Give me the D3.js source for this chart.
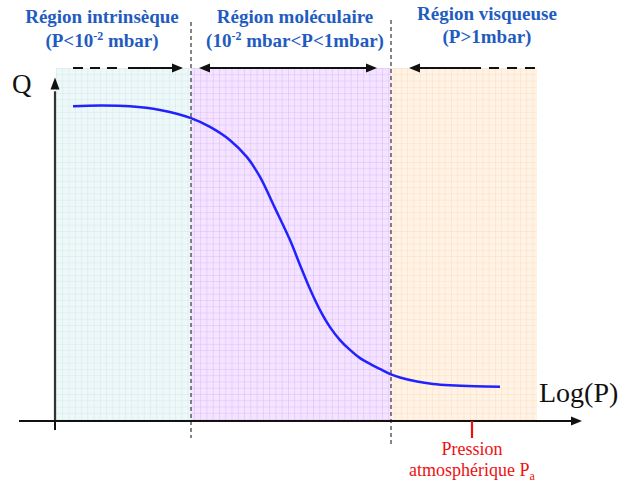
<!DOCTYPE html>
<html><head><meta charset="utf-8">
<script src="https://cdn.jsdelivr.net/npm/d3@7"></script>
<style>body{margin:0;background:#fff}svg{display:block}</style>
</head><body><svg id="c" width="621" height="486"></svg>
<script>
// ---- data ----
const regionNames = ["Région intrinsèque", "Région moléculaire", "Région visqueuse"];
const regionConditions = [
  [["(P<10",""],["-2","sup"],[" mbar)",""]],
  [["(10",""],["-2","sup"],[" mbar<P<1mbar)",""]],
  [["(P>1mbar)",""]]
];
const regionBounds = [-3.35, -2, 0, 1.46];          // log(P) limits of the shaded regions
const logP = [-3.18,-2.91,-2.61,-2.31,-2.00,-1.81,-1.61,-1.44,-1.31,-1.16,-1.01,-0.91,-0.81,-0.71,-0.61,-0.51,-0.41,-0.31,-0.21,-0.11,0.00,0.09,0.26,0.42,0.59,0.84,1.09];
const Q    = [92.6,92.8,92.6,91.5,89.1,86.5,82.6,77.6,71.8,62.6,53.2,45.9,38.8,32.6,27.6,23.8,20.9,18.5,16.8,15.3,13.7,12.8,11.6,10.9,10.5,10.2,10.1];
const atmLogP = 0.81;
const axisLabels = {x: "Log(P)", y: "Q"};
const atmLabel = ["Pression", "atmosphérique P", "a"];

const SERIF = "'Liberation Serif', 'Times New Roman', 'DejaVu Serif', serif";

// ---- scales ----
const x = d3.scaleLinear().domain([-3.36, 1.91]).range([55, 582]);
const y = d3.scaleLinear().domain([0, 100]).range([421, 81]);
const svg = d3.select("#c");
const defs = svg.append("defs");

const fills = [
  {bg:"#eef8f8", grid:"#cfe8e8"},
  {bg:"#f4e4ff", grid:"#dcb8fb"},
  {bg:"#fff3e6", grid:"#fcdcbc"}
];
const topY = 68, step = 6.27;
fills.forEach((f,i)=>{
  const p = defs.append("pattern").attr("id","g"+i).attr("patternUnits","userSpaceOnUse")
    .attr("x", x(regionBounds[0])).attr("y", topY).attr("width", step).attr("height", step);
  p.append("rect").attr("width",step).attr("height",step).attr("fill",f.bg);
  p.append("path").attr("d",`M0,0V${step}M0,0H${step}`).attr("stroke",f.grid).attr("stroke-width",1).attr("fill","none");
});
regionNames.forEach((n,i)=>{
  svg.append("rect").attr("x", x(regionBounds[i])).attr("y", topY)
    .attr("width", x(regionBounds[i+1]) - x(regionBounds[i])).attr("height", y(0) - topY)
    .attr("fill", `url(#g${i})`);
});

// dashed region separators
[[regionBounds[1], 22, 438],[regionBounds[2], 20, 447]].forEach(([v,y0,y1])=>{
  svg.append("line").attr("x1",x(v)).attr("x2",x(v)).attr("y1",y0).attr("y2",y1)
    .attr("stroke","#444").attr("stroke-width",1.3).attr("stroke-dasharray","4,3");
});

// titles
const titleColor = "#1f5cbf";
const titleX = [102, 295, 487];
const titleY = [[23,47],[23,47],[20,43]];
regionNames.forEach((n,i)=>{
  svg.append("text").attr("x",titleX[i]).attr("y",titleY[i][0]).attr("text-anchor","middle")
    .style("font-family",SERIF).attr("font-weight","bold")
    .attr("font-size",19).attr("fill",titleColor).text(n);
  const t = svg.append("text").attr("x",titleX[i]).attr("y",titleY[i][1]).attr("text-anchor","middle")
    .style("font-family",SERIF).attr("font-weight","bold")
    .attr("font-size",19).attr("fill",titleColor);
  regionConditions[i].forEach(([s,k],j)=>{
    const ts = t.append("tspan").text(s);
    if(k==="sup") ts.attr("font-size",12).attr("dy",-7);
    else if(j>0 && regionConditions[i][j-1][1]==="sup") ts.attr("dy",7);
  });
});

// top arrows
function arrowHead(tx, ty, dir){
  let d;
  if(dir==="up") d = `M${tx},${ty}L${tx-4.5},${ty+12}L${tx+4.5},${ty+12}Z`;
  else d = `M${tx},${ty}L${tx-dir*11},${ty-4.5}L${tx-dir*11},${ty+4.5}Z`;
  svg.append("path").attr("d",d).attr("fill","#111");
}
const ay = 68;
function seg(x1,x2,dash){
  svg.append("line").attr("x1",x1).attr("x2",x2).attr("y1",ay).attr("y2",ay)
    .attr("stroke","#111").attr("stroke-width",2.2).attr("stroke-dasharray",dash||null);
}
seg(73,118,"10,7"); seg(128,174); arrowHead(183,ay,1);
seg(208,369); arrowHead(199,ay,-1); arrowHead(377,ay,1);
seg(418,481); arrowHead(409,ay,-1); seg(489,536,"10,8");

// axes
svg.append("line").attr("x1",x(-3.36)).attr("x2",x(-3.36)).attr("y1",y(0)).attr("y2",y(97))
  .attr("stroke","#333").attr("stroke-width",2.2);
arrowHead(x(-3.36), y(101), "up");
svg.append("line").attr("x1",19).attr("x2",x(1.8)).attr("y1",y(0)).attr("y2",y(0))
  .attr("stroke","#111").attr("stroke-width",2.2);
arrowHead(x(1.91), y(0), 1);
svg.append("line").attr("x1",x(-3.36)).attr("x2",x(-3.36)).attr("y1",y(0)).attr("y2",y(0)+9)
  .attr("stroke","#111").attr("stroke-width",2);

svg.append("text").attr("x",12).attr("y",93).style("font-family",SERIF)
  .attr("font-size",27).attr("fill","#111").text(axisLabels.y);
svg.append("text").attr("x",539).attr("y",402).style("font-family",SERIF)
  .attr("font-size",28).attr("fill","#111").text(axisLabels.x);

// curve
const line = d3.line().x((d,i)=>x(logP[i])).y((d,i)=>y(Q[i])).curve(d3.curveCatmullRom.alpha(0.5));
svg.append("path").datum(Q).attr("d",line).attr("fill","none").attr("stroke","#2222ff").attr("stroke-width",2.5);

// atmospheric pressure
const red = "#ee1111";
svg.append("line").attr("x1",x(atmLogP)).attr("x2",x(atmLogP)).attr("y1",y(0)).attr("y2",y(0)+17)
  .attr("stroke",red).attr("stroke-width",2.2);
svg.append("text").attr("x",x(atmLogP)).attr("y",455).attr("text-anchor","middle")
  .style("font-family",SERIF).attr("font-size",18).attr("fill",red).text(atmLabel[0]);
const t2 = svg.append("text").attr("x",x(atmLogP)).attr("y",476).attr("text-anchor","middle")
  .style("font-family",SERIF).attr("font-size",18).attr("fill",red);
t2.append("tspan").text(atmLabel[1]);
t2.append("tspan").attr("font-size",12).attr("dy",4).text(atmLabel[2]);
</script></body></html>
